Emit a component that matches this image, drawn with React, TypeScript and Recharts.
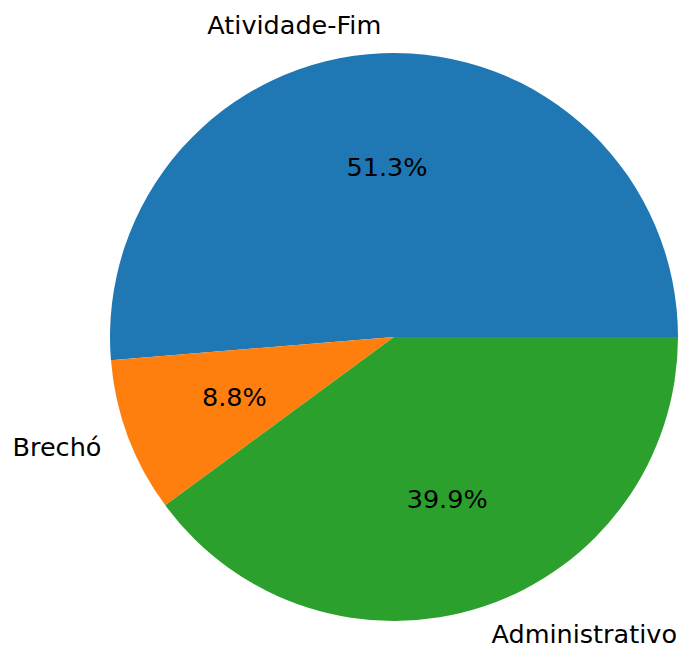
import React from 'react';
import { PieChart, Pie, Cell } from 'recharts';

const categories = ['Atividade-Fim', 'Brechó', 'Administrativo'];
const shares = [51.3, 8.8, 39.9];
const colors = ['#1f77b4', '#ff7f0e', '#2ca02c'];

const data = categories.map((name, i) => ({ name, value: shares[i] }));

const RADIAN = Math.PI / 180;
const FONT = 'DejaVu Sans, sans-serif';
const FONT_SIZE = 25.5;

const renderLabel = (props: any) => {
  const { cx, cy, midAngle, outerRadius, percent, name } = props;
  const cos = Math.cos(-midAngle * RADIAN);
  const sin = Math.sin(-midAngle * RADIAN);
  const lx = cx + outerRadius * 1.1 * cos;
  const ly = cy + outerRadius * 1.1 * sin;
  const px = cx + outerRadius * 0.6 * cos;
  const py = cy + outerRadius * 0.6 * sin;
  return (
    <g>
      <text
        x={lx}
        y={ly}
        fill="#000"
        fontSize={FONT_SIZE}
        fontFamily={FONT}
        textAnchor={lx > cx ? 'start' : 'end'}
        dominantBaseline="central"
      >
        {name}
      </text>
      <text
        x={px}
        y={py}
        fill="#000"
        fontSize={FONT_SIZE}
        fontFamily={FONT}
        textAnchor="middle"
        dominantBaseline="central"
      >
        {`${(percent * 100).toFixed(1)}%`}
      </text>
    </g>
  );
};

export default function App() {
  return (
    <div style={{ width: 678, height: 637 }}>
      <PieChart width={678} height={637} margin={{ top: 0, right: 0, bottom: 0, left: 0 }}>
        <Pie
          data={data}
          dataKey="value"
          nameKey="name"
          cx={386}
          cy={329}
          outerRadius={284}
          startAngle={0}
          endAngle={360}
          stroke="none"
          label={renderLabel}
          labelLine={false}
          isAnimationActive={false}
        >
          {data.map((d, i) => (
            <Cell key={d.name} fill={colors[i]} />
          ))}
        </Pie>
      </PieChart>
    </div>
  );
}
